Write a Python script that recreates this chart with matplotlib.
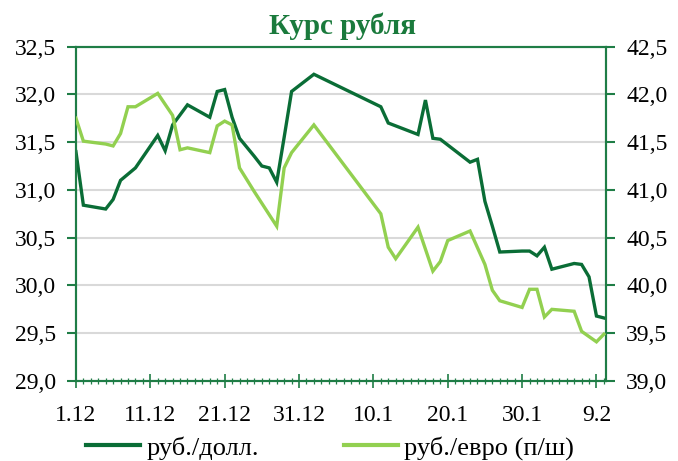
import matplotlib
matplotlib.use('Agg')
import matplotlib.pyplot as plt
from matplotlib.ticker import MultipleLocator, FuncFormatter
from matplotlib.lines import Line2D

# days counted from 1 December
usd_days = [0, 1, 4, 5, 6, 8, 11, 12, 13, 15, 18, 19, 20, 21, 22, 24, 25, 26, 27, 28, 29, 32,
            41, 42, 43, 46, 47, 48, 49, 53, 54, 55, 56, 57, 60, 61, 62, 63, 64, 67, 68, 69, 70, 71]
usd_rate = [31.40, 30.84, 30.80, 30.90, 31.10, 31.23, 31.57, 31.41, 31.68, 31.89, 31.76, 32.03,
            32.05, 31.76, 31.54, 31.35, 31.25, 31.23, 31.08, 31.55, 32.03, 32.21,
            31.87, 31.70, 31.67, 31.58, 31.94, 31.54, 31.53, 31.29, 31.32, 30.88, 30.62, 30.35,
            30.36, 30.36, 30.31, 30.40, 30.17, 30.23, 30.22, 30.09, 29.68, 29.66]

eur_days = [0, 1, 4, 5, 6, 7, 8, 11, 13, 14, 15, 18, 19, 20, 21, 22, 24, 27, 28, 29, 32,
            41, 42, 43, 46, 48, 49, 50, 53, 55, 56, 57, 60, 61, 62, 63, 64, 67, 68, 70, 71]
eur_rate = [41.75, 41.51, 41.48, 41.46, 41.59, 41.87, 41.87, 42.01, 41.78, 41.42, 41.44, 41.39,
            41.67, 41.72, 41.68, 41.23, 40.98, 40.62, 41.23, 41.39, 41.68,
            40.75, 40.40, 40.28, 40.61, 40.15, 40.25, 40.47, 40.57, 40.22, 39.95, 39.84,
            39.77, 39.96, 39.96, 39.67, 39.75, 39.73, 39.52, 39.41, 39.49]

tick_days = [0, 10, 20, 30, 40, 50, 60, 70]
tick_labels = ['1.12', '11.12', '21.12', '31.12', '10.1', '20.1', '30.1', '9.2']

title = 'Курс рубля'
names = ['руб./долл.', 'руб./евро (п/ш)']

dark = '#0a6d36'
light = '#92d050'
axis_green = '#1f7d46'

plt.rcParams['font.family'] = ['Liberation Serif', 'DejaVu Serif']

fig = plt.figure(figsize=(6.78, 4.61), dpi=100)
ax = fig.add_axes([0.112, 0.1735, 0.782, 0.7255])
ax2 = ax.twinx()

ax.plot(usd_days, usd_rate, color=dark, lw=2.4, solid_joinstyle='miter', zorder=3)
ax2.plot(eur_days, eur_rate, color=light, lw=2.4, solid_joinstyle='miter', zorder=3)

ax.set_xlim(0, 71.3)
ax.set_ylim(29.0, 32.5)
ax2.set_ylim(39.0, 42.5)
ax.yaxis.set_major_locator(MultipleLocator(0.5))
ax2.yaxis.set_major_locator(MultipleLocator(0.5))
comma = FuncFormatter(lambda v, p: f'{v:.1f}'.replace('.', ','))
ax.yaxis.set_major_formatter(comma)
ax2.yaxis.set_major_formatter(comma)

ax.set_xticks(tick_days)
ax.set_xticklabels(tick_labels)
ax.xaxis.set_minor_locator(MultipleLocator(1))

ax.grid(axis='y', color='#d9d9d9', lw=1.5)
ax.set_axisbelow(True)

for a in (ax, ax2):
    for s in a.spines.values():
        s.set_color(axis_green)
        s.set_linewidth(1.5)
    a.tick_params(axis='y', direction='out', length=6.5, width=1.5, color=axis_green,
                  labelsize=17, pad=8)
ax.tick_params(axis='x', which='major', direction='inout', length=10, width=1.2,
               color=axis_green, labelsize=17, pad=12)
ax.tick_params(axis='x', which='minor', direction='inout', length=4.5, width=0.9,
               color=axis_green)

fig.text(0.505, 0.943, title, ha='center', va='center', fontsize=21,
         fontweight='bold', color='#1a7a3c')

handles = [Line2D([], [], color=dark, lw=3), Line2D([], [], color=light, lw=3)]
fig.legend(handles, names, loc='center', bbox_to_anchor=(0.487, 0.028), ncol=2,
           frameon=False, fontsize=19, handlelength=2.05, handletextpad=0.25,
           columnspacing=3.2, borderaxespad=0)

fig.savefig('out.png', dpi=100)
